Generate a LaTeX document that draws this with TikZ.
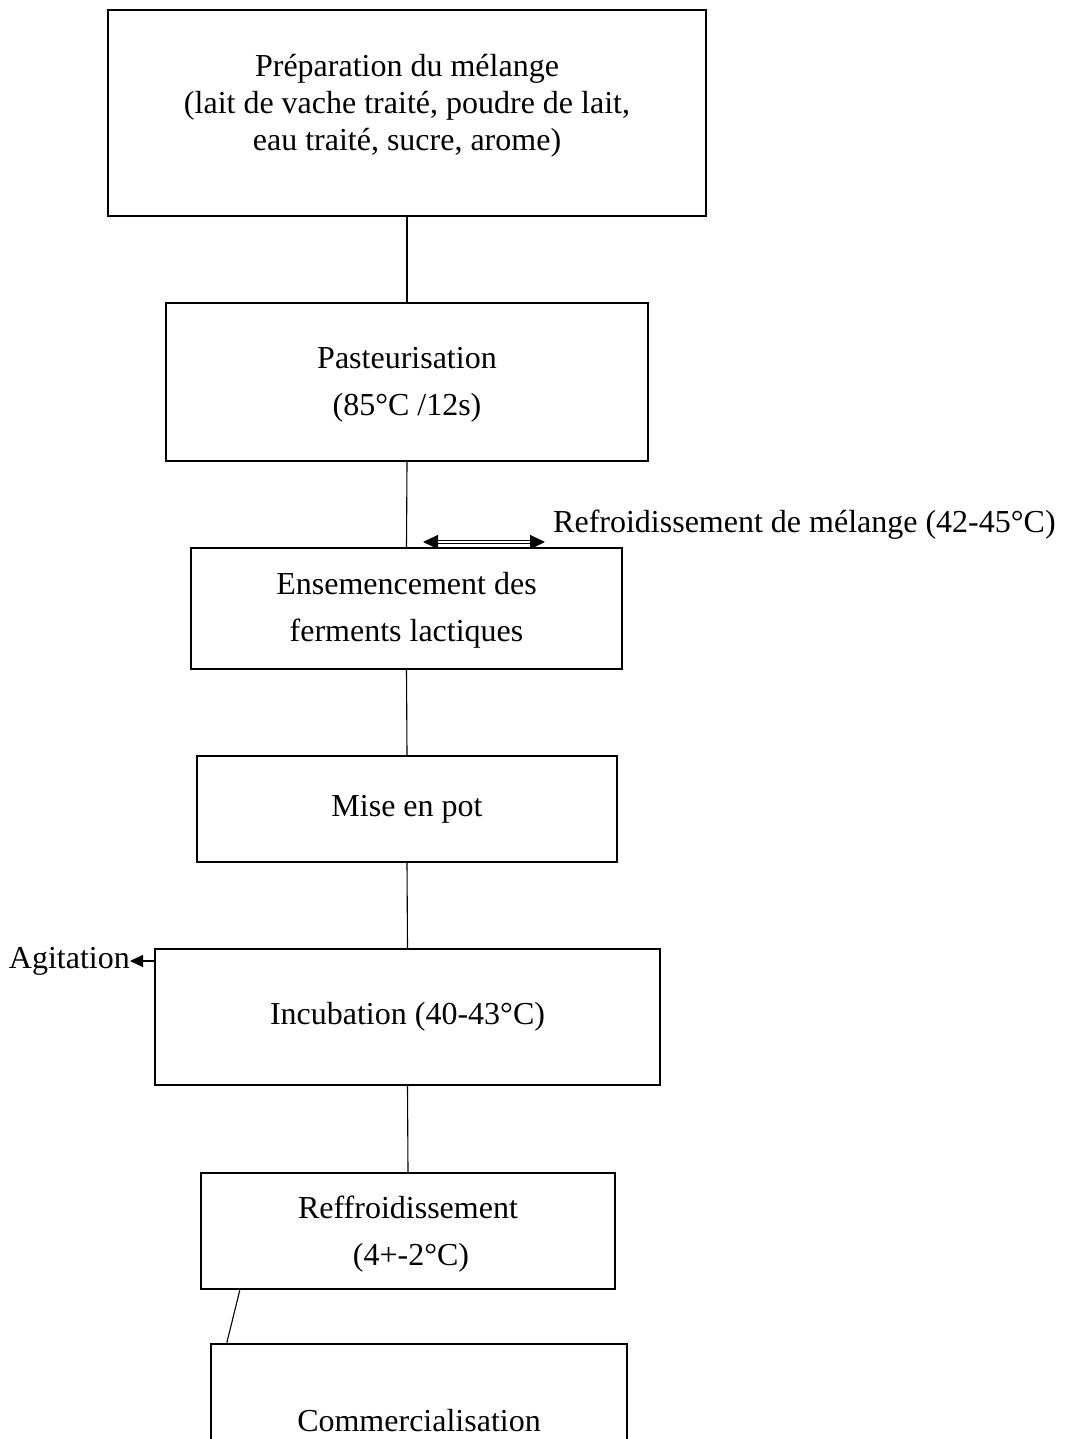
\documentclass[tikz,border=0pt]{standalone}
\usepackage{fontspec}
\setmainfont{Liberation Serif}
\usetikzlibrary{arrows.meta,calc}
\begin{document}
\begin{tikzpicture}[x=1pt,y=-1pt,
  box/.style={draw=black, line width=2.4pt, align=center, inner sep=0pt,
    font=\fontsize{32}{47}\selectfont},
  boxtext/.style={align=center, inner sep=0pt, font=\fontsize{32}{47}\selectfont},
  conn/.style={draw=black, line width=1.1pt},
  lbl/.style={inner sep=0pt, font=\fontsize{32}{37}\selectfont}]
\useasboundingbox (0,0) rectangle (1066,1439);
\node[box, minimum width=598pt, minimum height=206pt] (prep) at (407,113) {};
\node[boxtext, font=\fontsize{32}{36.8}\selectfont] (preptext) at (407,106)
  {Préparation du mélange\\(lait de vache traité, poudre de lait,\\eau traité, sucre, arome)};
\node[box, minimum width=482pt, minimum height=158pt] (past) at (407,382) {};
\node[boxtext] (pasttext) at (407,385) {Pasteurisation\\(85°C /12s)};
\node[box, minimum width=431pt, minimum height=121pt] (ense) at (406.5,608.5) {};
\node[boxtext] (ensetext) at (406.5,610) {Ensemencement des\\ferments lactiques};
\node[box, minimum width=420pt, minimum height=106pt] (mise) at (407,809)
  {Mise en pot};
\node[box, minimum width=505pt, minimum height=136pt] (incu) at (407.5,1017)
  {Incubation (40-43°C)};
\node[box, minimum width=414pt, minimum height=116pt] (reff) at (408,1231) {};
\node[boxtext] (refftext) at (408,1234) {Reffroidissement\\\hspace*{6pt}(4+-2°C)};
\node[box, minimum width=416pt, minimum height=154pt] (comm) at (419,1421)
  {Commercialisation};
\draw[conn] (prep.south) -- (past.north);
\draw[conn] (past.south) -- (ense.north);
\draw[conn] (ense.south) -- (mise.north);
\draw[conn] (mise.south) -- (incu.north);
\draw[conn] (incu.south) -- (reff.north);
\draw[conn] ($(reff.south west)+(40,0)$) -- ($(comm.north west)+(17,0)$);
% cooling double arrow
\coordinate (cl) at (423,542);
\coordinate (cr) at (545,542);
\draw[line width=0.9pt, double, double distance=2.2pt,
  {Triangle[length=15pt,width=14pt]}-{Triangle[length=15pt,width=14pt]}] (cl) -- (cr);
\node[lbl, anchor=base west] (refr) at (553,532) {Refroidissement de mélange (42-45°C)};
% agitation
\node[lbl, anchor=east] (agit) at (130,961) {Agitation};
\draw[line width=1.1pt, -{Triangle[length=13pt,width=12pt]}] (incu.west |- agit.east) -- (agit.east);
\end{tikzpicture}
\end{document}
